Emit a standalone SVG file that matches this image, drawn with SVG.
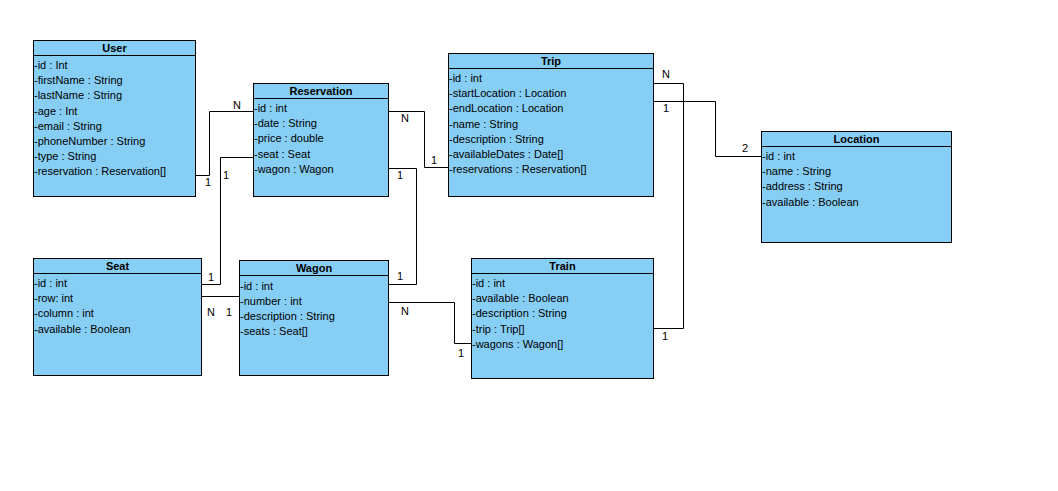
<svg xmlns="http://www.w3.org/2000/svg" width="1058" height="491" viewBox="0 0 1058 491">
<style>
.box{fill:#87CEF5;stroke:#000;stroke-width:1}
.sep{stroke:#000;stroke-width:1}
.title{font-family:"Liberation Sans",Arial,sans-serif;font-size:11px;font-weight:bold;text-anchor:middle;fill:#000}
.attr{font-family:"Liberation Sans",Arial,sans-serif;font-size:11px;fill:#000}
.lbl{font-family:"Liberation Sans",Arial,sans-serif;font-size:11px;fill:#000;text-anchor:middle}
.conn{fill:none;stroke:#000;stroke-width:1}
</style>
<rect width="1058" height="491" fill="#fff"/>
<g id="connectors">
<polyline class="conn" points="196,175.5 209.5,175.5 209.5,111.5 253,111.5"/>
<polyline class="conn" points="253,157.5 220.5,157.5 220.5,284.5 202,284.5"/>
<polyline class="conn" points="389,111.5 424.5,111.5 424.5,167.5 448,167.5"/>
<polyline class="conn" points="389,168.5 416.5,168.5 416.5,284.5 389,284.5"/>
<polyline class="conn" points="202,296.5 239,296.5"/>
<polyline class="conn" points="389,302.5 454.5,302.5 454.5,343.5 471,343.5"/>
<polyline class="conn" points="654,83.5 683.5,83.5 683.5,328.5 654,328.5"/>
<polyline class="conn" points="654,101.5 715.5,101.5 715.5,156.5 761,156.5"/>
<text class="lbl" x="237" y="109">N</text>
<text class="lbl" x="208" y="186">1</text>
<text class="lbl" x="226" y="179">1</text>
<text class="lbl" x="211" y="281">1</text>
<text class="lbl" x="405" y="122">N</text>
<text class="lbl" x="434" y="164">1</text>
<text class="lbl" x="400" y="179">1</text>
<text class="lbl" x="400" y="280">1</text>
<text class="lbl" x="211" y="316">N</text>
<text class="lbl" x="229" y="316">1</text>
<text class="lbl" x="405" y="315">N</text>
<text class="lbl" x="461" y="357">1</text>
<text class="lbl" x="666" y="78">N</text>
<text class="lbl" x="665" y="340">1</text>
<text class="lbl" x="666" y="112">1</text>
<text class="lbl" x="745" y="152">2</text>
</g>
<g id="User">
<rect class="box" x="33.5" y="40.5" width="162" height="156"/>
<line class="sep" x1="33.5" y1="55.5" x2="195.5" y2="55.5"/>
<text class="title" x="114.5" y="52">User</text>
<text class="attr" x="34" y="69">-id : Int</text>
<text class="attr" x="34" y="84.2">-firstName : String</text>
<text class="attr" x="34" y="99.4">-lastName : String</text>
<text class="attr" x="34" y="114.6">-age : Int</text>
<text class="attr" x="34" y="129.8">-email : String</text>
<text class="attr" x="34" y="145">-phoneNumber : String</text>
<text class="attr" x="34" y="160.2">-type : String</text>
<text class="attr" x="34" y="175.4">-reservation : Reservation[]</text>
</g>
<g id="Reservation">
<rect class="box" x="253.5" y="83.5" width="135" height="113"/>
<line class="sep" x1="253.5" y1="98.5" x2="388.5" y2="98.5"/>
<text class="title" x="321" y="95">Reservation</text>
<text class="attr" x="254" y="112">-id : int</text>
<text class="attr" x="254" y="127.2">-date : String</text>
<text class="attr" x="254" y="142.4">-price : double</text>
<text class="attr" x="254" y="157.6">-seat : Seat</text>
<text class="attr" x="254" y="172.8">-wagon : Wagon</text>
</g>
<g id="Trip">
<rect class="box" x="448.5" y="53.5" width="205" height="143"/>
<line class="sep" x1="448.5" y1="68.5" x2="653.5" y2="68.5"/>
<text class="title" x="551" y="65">Trip</text>
<text class="attr" x="449" y="82">-id : int</text>
<text class="attr" x="449" y="97.2">-startLocation : Location</text>
<text class="attr" x="449" y="112.4">-endLocation : Location</text>
<text class="attr" x="449" y="127.6">-name : String</text>
<text class="attr" x="449" y="142.8">-description : String</text>
<text class="attr" x="449" y="158">-availableDates : Date[]</text>
<text class="attr" x="449" y="173.2">-reservations : Reservation[]</text>
</g>
<g id="Location">
<rect class="box" x="761.5" y="131.5" width="190" height="111"/>
<line class="sep" x1="761.5" y1="146.5" x2="951.5" y2="146.5"/>
<text class="title" x="856.5" y="143">Location</text>
<text class="attr" x="762" y="160">-id : int</text>
<text class="attr" x="762" y="175.2">-name : String</text>
<text class="attr" x="762" y="190.4">-address : String</text>
<text class="attr" x="762" y="205.6">-available : Boolean</text>
</g>
<g id="Seat">
<rect class="box" x="33.5" y="258.5" width="168" height="117"/>
<line class="sep" x1="33.5" y1="273.5" x2="201.5" y2="273.5"/>
<text class="title" x="117.5" y="270">Seat</text>
<text class="attr" x="34" y="287">-id : int</text>
<text class="attr" x="34" y="302.2">-row: int</text>
<text class="attr" x="34" y="317.4">-column : int</text>
<text class="attr" x="34" y="332.6">-available : Boolean</text>
</g>
<g id="Wagon">
<rect class="box" x="239.5" y="260.5" width="149" height="115"/>
<line class="sep" x1="239.5" y1="275.5" x2="388.5" y2="275.5"/>
<text class="title" x="314" y="272">Wagon</text>
<text class="attr" x="240" y="289.5">-id : int</text>
<text class="attr" x="240" y="304.7">-number : int</text>
<text class="attr" x="240" y="319.9">-description : String</text>
<text class="attr" x="240" y="335.1">-seats : Seat[]</text>
</g>
<g id="Train">
<rect class="box" x="471.5" y="258.5" width="182" height="120"/>
<line class="sep" x1="471.5" y1="273.5" x2="653.5" y2="273.5"/>
<text class="title" x="562.5" y="270">Train</text>
<text class="attr" x="472" y="287">-id : int</text>
<text class="attr" x="472" y="302.2">-available : Boolean</text>
<text class="attr" x="472" y="317.4">-description : String</text>
<text class="attr" x="472" y="332.6">-trip : Trip[]</text>
<text class="attr" x="472" y="347.8">-wagons : Wagon[]</text>
</g>
</svg>
